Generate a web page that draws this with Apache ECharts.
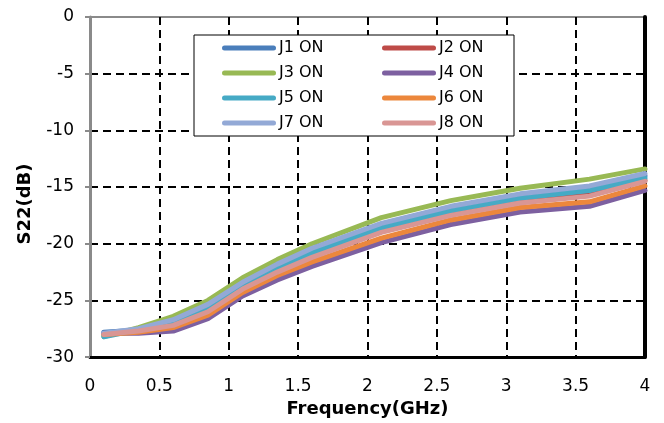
<!DOCTYPE html>
<html>
<head>
<meta charset="utf-8">
<script src="https://cdn.jsdelivr.net/npm/echarts@6/dist/echarts.min.js"></script>
<style>
  html, body { margin: 0; padding: 0; background: #fff; }
  #chart { width: 664px; height: 423px; }
</style>
</head>
<body>
<div id="chart"></div>
<script>
// Frequency sweep points (GHz)
const freq = [0.1, 0.35, 0.6, 0.85, 1.1, 1.35, 1.6, 2.1, 2.6, 3.1, 3.6, 4.0];

// S22 (dB) for each switch state
const j1On = [-27.8, -27.6, -26.8, -25.5, -23.5, -22.0, -20.7, -18.4, -16.9, -15.8, -15.1, -14.0];
const j2On = [-28.0, -27.7, -27.1, -25.9, -23.9, -22.4, -21.1, -18.9, -17.4, -16.3, -15.6, -14.4];
const j3On = [-28.2, -27.4, -26.4, -25.0, -23.0, -21.4, -20.0, -17.7, -16.2, -15.1, -14.3, -13.4];
const j4On = [-27.9, -27.9, -27.7, -26.6, -24.6, -23.2, -22.0, -19.9, -18.3, -17.2, -16.7, -15.3];
const j5On = [-28.2, -27.6, -26.9, -25.7, -23.7, -22.2, -20.8, -18.6, -17.1, -16.0, -15.3, -14.2];
const j6On = [-28.0, -27.8, -27.4, -26.3, -24.3, -22.8, -21.6, -19.5, -17.9, -16.8, -16.3, -14.9];
const j7On = [-27.9, -27.5, -26.7, -25.35, -23.4, -21.8, -20.4, -18.2, -16.7, -15.6, -14.9, -13.8];
const j8On = [-28.0, -27.7, -27.2, -26.0, -24.0, -22.5, -21.2, -19.0, -17.5, -16.4, -15.8, -14.5];

const seriesNames = ['J1 ON', 'J2 ON', 'J3 ON', 'J4 ON', 'J5 ON', 'J6 ON', 'J7 ON', 'J8 ON'];
const seriesValues = [j1On, j2On, j3On, j4On, j5On, j6On, j7On, j8On];
const seriesColors = ['#4A7EBB', '#BE4B48', '#98B954', '#7D60A0', '#46AAC5', '#EC873C', '#93A9D6', '#D99694'];

const font = '"DejaVu Sans", "Liberation Sans", Arial, sans-serif';
const pillIcon = 'path://M2.5,0 H51.5 A2.5,2.5 0 0 1 51.5,5 H2.5 A2.5,2.5 0 0 1 2.5,0 Z';

const legendBase = {
  orient: 'vertical',
  top: 40,
  padding: 0,
  itemWidth: 54,
  itemHeight: 5,
  itemGap: 9,
  icon: pillIcon,
  selectedMode: false,
  z: 5,
  textStyle: { fontFamily: font, fontSize: 16, lineHeight: 16, color: '#000', padding: [0, 0, 0, -2] }
};

const chart = echarts.init(document.getElementById('chart'), null, { renderer: 'canvas' });

chart.setOption({
  animation: false,
  backgroundColor: '#fff',
  grid: {
    left: 90, right: 19, top: 17, bottom: 61,
    show: true, borderColor: '#8A8A8A', borderWidth: 2, backgroundColor: 'transparent'
  },
  legend: [
    Object.assign({}, legendBase, { left: 222, data: ['J1 ON', 'J3 ON', 'J5 ON', 'J7 ON'] }),
    Object.assign({}, legendBase, { left: 382, data: ['J2 ON', 'J4 ON', 'J6 ON', 'J8 ON'] })
  ],
  graphic: [
    {
      type: 'rect', z: 4,
      shape: { x: 194, y: 35, width: 320, height: 101 },
      style: { fill: '#fff', stroke: '#000', lineWidth: 1 }
    },
    {
      type: 'text', z: 4,
      x: 25, y: 204, rotation: Math.PI / 2,
      style: {
        text: 'S22(dB)', fill: '#000',
        font: 'bold 18px ' + font,
        align: 'center', verticalAlign: 'middle'
      }
    }
  ],
  xAxis: {
    type: 'value', min: 0, max: 4, interval: 0.5,
    name: 'Frequency(GHz)', nameLocation: 'middle', nameGap: 40,
    nameTextStyle: { fontFamily: font, fontSize: 18, fontWeight: 'bold', color: '#000' },
    axisLine: { show: true, onZero: false, lineStyle: { color: '#000', width: 3 } },
    axisTick: { show: false },
    axisLabel: { margin: 21, fontFamily: font, fontSize: 17, color: '#000' },
    splitLine: {
      show: true, showMinLine: false, showMaxLine: false,
      lineStyle: { color: '#000', width: 2, type: [8, 5] }
    }
  },
  yAxis: [
    {
      type: 'value', min: -30, max: 0, interval: 5, position: 'left',
      axisLine: { show: true, onZero: false, lineStyle: { color: '#8A8A8A', width: 3 } },
      axisTick: { show: true, length: 5, lineStyle: { color: '#8A8A8A', width: 2 } },
      axisLabel: { margin: 16, fontFamily: font, fontSize: 17, color: '#000' },
      splitLine: {
        show: true, showMinLine: false, showMaxLine: false,
        lineStyle: { color: '#000', width: 2, type: [8, 5] }
      }
    },
    {
      type: 'value', min: -30, max: 0, interval: 5, position: 'right',
      axisLine: { show: true, onZero: false, lineStyle: { color: '#000', width: 4 } },
      axisTick: { show: false },
      axisLabel: { show: false },
      splitLine: { show: false }
    }
  ],
  series: seriesNames.map((name, i) => ({
    name: name,
    type: 'line',
    yAxisIndex: 0,
    data: freq.map((f, k) => [f, seriesValues[i][k]]),
    showSymbol: false,
    symbol: 'none',
    smooth: false,
    color: seriesColors[i],
    itemStyle: { color: seriesColors[i] },
    lineStyle: { color: seriesColors[i], width: 5, cap: 'round', join: 'round' },
    z: 2
  }))
});
</script>
</body>
</html>
